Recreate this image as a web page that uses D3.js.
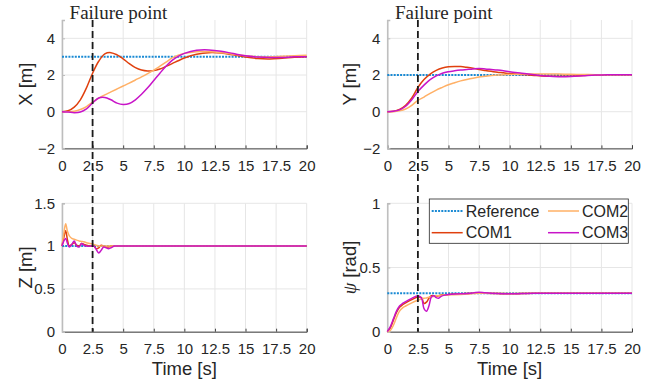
<!DOCTYPE html>
<html lang="en">
  <head>
    <meta charset="UTF-8" />
    <title>Failure point response</title>
    <style>
      body {
        margin: 0;
        background: #ffffff;
      }
      svg text {
        font-family: "Liberation Sans", Arial, sans-serif;
        fill: #262626;
      }
      .grid line {
        stroke: #e6e6e6;
        stroke-width: 1;
      }
    </style>
  </head>
  <body>
    <div id="chart"></div>
    <script src="https://d3js.org/d3.v7.min.js"></script>
    <script>
      const timeTicks = [0, 2.5, 5, 7.5, 10, 12.5, 15, 17.5, 20];
      const failureTime = 2.5;
      const refTime = [0, 20];

      // X and Y position (m)
      const tPos = [0, 0.5, 1, 1.5, 2, 2.5, 3, 3.5, 4, 4.5, 5, 5.5, 6, 6.5, 7, 7.5, 8, 8.5, 9, 9.5, 10, 11, 12, 13, 14, 15, 16, 17, 18, 19, 20];
      const xRef = [3, 3];
      const xCom1 = [0, 0.05, 0.25, 0.65, 1.3, 2.1, 2.75, 3.15, 3.22, 3.1, 2.88, 2.62, 2.4, 2.27, 2.22, 2.24, 2.33, 2.47, 2.62, 2.78, 2.93, 3.13, 3.22, 3.2, 3.1, 2.98, 2.9, 2.88, 2.92, 2.97, 3.0];
      const xCom2 = [0, 0, 0.03, 0.12, 0.28, 0.52, 0.74, 0.92, 1.08, 1.24, 1.4, 1.56, 1.73, 1.9, 2.08, 2.27, 2.48, 2.7, 2.93, 3.08, 3.18, 3.27, 3.27, 3.22, 3.13, 3.05, 3.0, 2.99, 3.02, 3.05, 3.08];
      const xCom3 = [0, -0.02, -0.05, -0.02, 0.15, 0.48, 0.75, 0.78, 0.65, 0.47, 0.4, 0.45, 0.65, 0.95, 1.3, 1.7, 2.1, 2.48, 2.8, 3.02, 3.18, 3.35, 3.37, 3.3, 3.17, 3.05, 2.98, 2.95, 2.96, 2.99, 3.0];

      const yRef = [2, 2];
      const yCom1 = [0, 0.02, 0.12, 0.35, 0.75, 1.32, 1.75, 2.05, 2.25, 2.38, 2.45, 2.47, 2.46, 2.42, 2.37, 2.3, 2.25, 2.2, 2.15, 2.12, 2.08, 2.03, 1.98, 1.94, 1.93, 1.94, 1.97, 2.0, 2.02, 2.02, 2.02];
      const yCom2 = [0, 0, 0.05, 0.15, 0.35, 0.62, 0.8, 1.0, 1.18, 1.33, 1.47, 1.58, 1.68, 1.76, 1.83, 1.89, 1.93, 1.97, 2.0, 2.02, 2.03, 2.05, 2.06, 2.06, 2.05, 2.04, 2.03, 2.02, 2.02, 2.02, 2.02];
      const yCom3 = [0, 0.02, 0.1, 0.3, 0.65, 1.1, 1.45, 1.75, 1.95, 2.1, 2.18, 2.23, 2.27, 2.3, 2.33, 2.35, 2.33, 2.3, 2.27, 2.23, 2.18, 2.1, 2.02, 1.95, 1.91, 1.92, 1.96, 2.0, 2.02, 2.02, 2.02];

      // Z position (m)
      const tZ = [0, 0.15, 0.3, 0.45, 0.6, 0.8, 1.0, 1.2, 1.4, 1.6, 1.8, 2.0, 2.3, 2.6, 2.8, 3.0, 3.2, 3.4, 3.6, 3.8, 4.0, 4.3, 4.6, 5, 6, 8, 10, 12, 14, 16, 18, 20];
      const zRef = [1, 1];
      const zCom1 = [1.0, 1.1, 1.18, 1.07, 1.0, 1.02, 1.04, 1.01, 1.0, 1.03, 1.02, 1.01, 1.0, 1.0, 0.97, 0.98, 1.01, 1.0, 0.99, 0.99, 1.0, 1.0, 1.0, 1.0, 1.0, 1.0, 1.0, 1.0, 1.0, 1.0, 1.0, 1.0];
      const zCom2 = [1.0, 1.15, 1.26, 1.17, 1.12, 1.09, 1.08, 1.07, 1.06, 1.055, 1.05, 1.04, 1.03, 1.02, 1.01, 1.0, 1.0, 1.0, 1.0, 1.0, 1.0, 1.0, 1.0, 1.0, 1.0, 1.0, 1.0, 1.0, 1.0, 1.0, 1.0, 1.0];
      const zCom3 = [1.0, 1.06, 1.09, 1.03, 0.99, 1.02, 1.06, 1.0, 0.99, 1.03, 1.01, 1.0, 1.0, 1.0, 0.96, 0.92, 0.95, 0.99, 0.98, 0.97, 0.98, 1.0, 1.0, 1.0, 1.0, 1.0, 1.0, 1.0, 1.0, 1.0, 1.0, 1.0];

      // yaw angle psi (rad)
      const tPsi = [0, 0.25, 0.5, 0.75, 1, 1.25, 1.5, 2, 2.5, 2.8, 3.0, 3.2, 3.4, 3.6, 3.8, 4.0, 4.2, 4.4, 4.7, 5, 6, 7, 7.5, 8, 9, 10, 12, 14, 16, 18, 20];
      const psiRef = [0.3, 0.3];
      const psiCom1 = [0, 0.03, 0.09, 0.15, 0.19, 0.21, 0.225, 0.25, 0.27, 0.265, 0.22, 0.23, 0.26, 0.28, 0.28, 0.275, 0.28, 0.285, 0.285, 0.29, 0.295, 0.3, 0.302, 0.3, 0.297, 0.295, 0.3, 0.3, 0.3, 0.3, 0.3];
      const psiCom2 = [0, 0.01, 0.05, 0.11, 0.16, 0.185, 0.2, 0.225, 0.245, 0.255, 0.26, 0.263, 0.268, 0.272, 0.275, 0.278, 0.28, 0.282, 0.285, 0.287, 0.29, 0.297, 0.3, 0.3, 0.3, 0.298, 0.3, 0.3, 0.3, 0.3, 0.3];
      const psiCom3 = [0, 0.04, 0.1, 0.16, 0.2, 0.22, 0.235, 0.26, 0.28, 0.26, 0.18, 0.16, 0.2, 0.27, 0.28, 0.265, 0.26, 0.275, 0.285, 0.29, 0.295, 0.302, 0.308, 0.303, 0.297, 0.295, 0.3, 0.3, 0.3, 0.3, 0.3];

      const seriesNames = ["Reference", "COM1", "COM2", "COM3"];
      const colors = ["#1a8ad4", "#e0400e", "#ffb066", "#c814c8"];

      const width = 657;
      const height = 384;
      const plotW = 244.7;
      const plotH = 128.4;

      const svg = d3
        .select("#chart")
        .append("svg")
        .attr("width", width)
        .attr("height", height);

      const panels = [
        { left: 62, top: 20, domain: [-2, 5], ticks: [-2, 0, 2, 4], label: "X [m]", t: tPos, ref: xRef, lines: [xCom1, xCom2, xCom3] },
        { left: 387.3, top: 20, domain: [-2, 5], ticks: [-2, 0, 2, 4], label: "Y [m]", t: tPos, ref: yRef, lines: [yCom1, yCom2, yCom3] },
        { left: 62, top: 203.3, domain: [0, 1.5], ticks: [0, 0.5, 1, 1.5], label: "Z [m]", t: tZ, ref: zRef, lines: [zCom1, zCom2, zCom3] },
        { left: 387.3, top: 203.3, domain: [0, 1], ticks: [0, 0.5, 1], label: "psi", t: tPsi, ref: psiRef, lines: [psiCom1, psiCom2, psiCom3] },
      ];

      const fmt = d3.format("~g");

      panels.forEach((p, i) => {
        const x = d3.scaleLinear().domain([0, 20]).range([p.left, p.left + plotW]);
        const y = d3.scaleLinear().domain(p.domain).range([p.top + plotH, p.top]);
        const g = svg.append("g");

        // grid
        const grid = g.append("g").attr("class", "grid");
        grid
          .selectAll(".gx")
          .data(timeTicks)
          .enter()
          .append("line")
          .attr("x1", (d) => x(d))
          .attr("x2", (d) => x(d))
          .attr("y1", p.top)
          .attr("y2", p.top + plotH);
        grid
          .selectAll(".gy")
          .data(p.ticks)
          .enter()
          .append("line")
          .attr("x1", p.left)
          .attr("x2", p.left + plotW)
          .attr("y1", (d) => y(d))
          .attr("y2", (d) => y(d));

        // axes
        const xAxis = g
          .append("g")
          .attr("transform", `translate(0,${p.top + plotH})`)
          .call(d3.axisBottom(x).tickValues(timeTicks).tickFormat(fmt).tickSize(-3).tickPadding(12));
        xAxis.select(".domain").attr("stroke", "#404040");
        xAxis.selectAll(".tick line").attr("stroke", "#404040");

        const yAxis = g
          .append("g")
          .attr("transform", `translate(${p.left},0)`)
          .call(d3.axisLeft(y).tickValues(p.ticks).tickFormat(fmt).tickSize(-3).tickPadding(7));
        yAxis.select(".domain").attr("stroke", "#bdbdbd").attr("stroke-width", 1.5);
        yAxis.selectAll(".tick line").attr("stroke", "#bdbdbd");

        [xAxis, yAxis].forEach((a) => {
          a.attr("font-family", null).attr("font-size", null);
          a.selectAll("text").style("font-size", "15px").attr("fill", "#262626");
        });

        // lines
        const line = d3
          .line()
          .x((d) => x(d[0]))
          .y((d) => y(d[1]))
          .curve(d3.curveCatmullRom);

        g.append("path")
          .datum(d3.zip(refTime, p.ref))
          .attr("d", line)
          .attr("fill", "none")
          .attr("stroke", colors[0])
          .attr("stroke-width", 2)
          .attr("stroke-dasharray", "2,1.2");

        p.lines.forEach((vals, k) => {
          g.append("path")
            .datum(d3.zip(p.t, vals))
            .attr("d", line)
            .attr("fill", "none")
            .attr("stroke", colors[k + 1])
            .attr("stroke-width", 1.5);
        });

        // y label
        const lx = i % 2 === 0 ? 26 : 350;
        const ly = p.top + plotH / 2;
        const lab = g
          .append("text")
          .attr("transform", `translate(${lx},${ly}) rotate(-90)`)
          .attr("text-anchor", "middle")
          .attr("dy", "0.35em")
          .style("font-size", "18.5px");
        if (p.label === "psi") {
          lab
            .append("tspan")
            .attr("font-family", "'Liberation Serif', 'Times New Roman', serif")
            .attr("font-style", "italic")
            .text("ψ");
          lab.append("tspan").text(" [rad]");
        } else {
          lab.text(p.label);
        }

        if (i >= 2) {
          g.append("text")
            .attr("x", p.left + plotW / 2)
            .attr("y", 375)
            .attr("text-anchor", "middle")
            .style("font-size", "18.5px")
            .text("Time [s]");
        }
      });

      // failure point markers
      [62, 387.3].forEach((left) => {
        const x = d3.scaleLinear().domain([0, 20]).range([left, left + plotW]);
        svg
          .append("line")
          .attr("x1", x(failureTime))
          .attr("x2", x(failureTime))
          .attr("y1", 20)
          .attr("y2", 203.3 + plotH)
          .attr("stroke", "#1a1a1a")
          .attr("stroke-width", 1.8)
          .attr("stroke-dasharray", "7,4");
        svg
          .append("text")
          .attr("x", x(failureTime) - 23)
          .attr("y", 19)
          .style("font-family", "'Liberation Serif', 'Times New Roman', serif")
          .style("font-size", "19px")
          .attr("fill", "#000")
          .text("Failure point");
      });

      // legend
      const legend = svg.append("g");
      legend
        .append("rect")
        .attr("x", 429.3)
        .attr("y", 199)
        .attr("width", 199)
        .attr("height", 44.3)
        .attr("fill", "#fff")
        .attr("stroke", "#262626")
        .attr("stroke-width", 0.8);
      const legendPos = [
        [431.7, 211],
        [431.7, 232.7],
        [548, 211],
        [548, 232.7],
      ];
      seriesNames.forEach((name, k) => {
        const [lx, ly] = legendPos[k];
        legend
          .append("line")
          .attr("x1", lx)
          .attr("x2", lx + 31)
          .attr("y1", ly)
          .attr("y2", ly)
          .attr("stroke", colors[k])
          .attr("stroke-width", k === 0 ? 2 : 1.5)
          .attr("stroke-dasharray", k === 0 ? "2,1.2" : null);
        legend
          .append("text")
          .attr("x", lx + 34)
          .attr("y", ly + 5.5)
          .style("font-size", "16px")
          .text(name);
      });
    </script>
  </body>
</html>
